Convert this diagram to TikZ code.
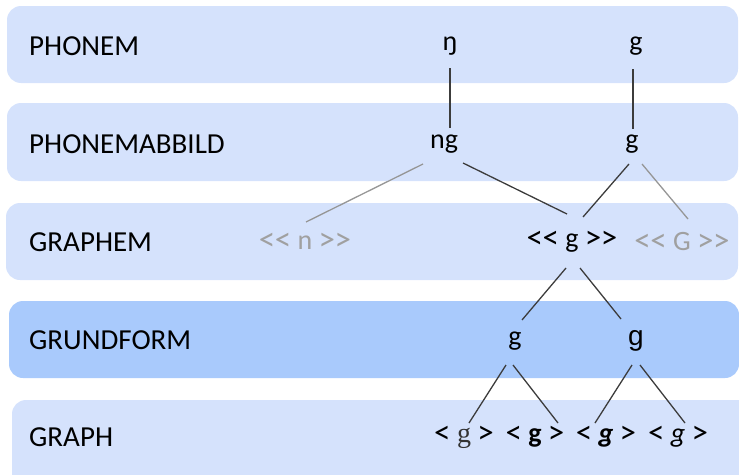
\documentclass[tikz,border=0pt]{standalone}
\usepackage{fontspec}
\setmainfont{Carlito}[Ligatures=TeXOff]
\newfontfamily\serifg{Liberation Serif}
\newfontfamily\arialg{Liberation Sans}
\newcommand\bigbr[1]{{\fontsize{33}{30}\selectfont\raisebox{-1pt}{#1}}}
\newcommand\LL{\bigbr{<\kern-0.5pt<}}
\newcommand\RR{\bigbr{>\kern-0.5pt>}}
\newcommand\Lx{\bigbr{<}}
\newcommand\Rx{\bigbr{>}}
\begin{document}
\begin{tikzpicture}[x=1pt,y=-1pt,
  band/.style={fill=bandlight,rounded corners=14pt},
  lvl/.style={anchor=west,font=\fontsize{29}{30}\selectfont,text=black,inner sep=0pt},
  sym/.style={font=\fontsize{28}{30}\selectfont,text=black,inner sep=1pt},
  gsym/.style={sym,text=graytext},
  dk/.style={draw=darkline,line width=1.3pt},
  lt/.style={draw=lightline,line width=1.3pt}]
\definecolor{bandlight}{RGB}{213,226,252}
\definecolor{banddark}{RGB}{169,202,252}
\definecolor{graytext}{RGB}{160,160,160}
\definecolor{darkline}{RGB}{60,60,60}
\definecolor{lightline}{RGB}{150,150,150}
\useasboundingbox (0,0) rectangle (739,474);
\clip (0,0) rectangle (739,474);
% bands
\fill[band] (7,6) rectangle (738,83);
\fill[band] (7,103) rectangle (738,181);
\fill[band] (6,203) rectangle (738,280);
\fill[band,fill=banddark] (9,301) rectangle (739,378);
\fill[band] (12,400) rectangle (760,500);
% level labels
\node[lvl] (l1) at (29,46) {PHONEM};
\node[lvl] (l2) at (29,144) {PHONEMABBILD};
\node[lvl] (l3) at (29,242) {GRAPHEM};
\node[lvl] (l4) at (29,340) {GRUNDFORM};
\node[lvl] (l5) at (29,437) {GRAPH};
% tree nodes
\node[sym] (p1) at (450,46) {ŋ};
\node[sym] (p2) at (636,46) {g};
\node[sym] (a1) at (444,144) {ng};
\node[sym] (a2) at (632,144) {g};
\node[gsym] (gn) at (305,242) {\LL{} n \RR};
\node[sym] (gg) at (572,242) {\LL{} g \RR};
\node[gsym] (gG) at (682,242) {\LL{} G \RR};
\node[sym] (f1) at (515,341) {g};
\node[sym] (f2) at (636,341) {\arialg g};
\node[sym] (h1) at (464,437) {\Lx{} {\serifg\color{black!80}g} \Rx};
\node[sym] (h2) at (535,437) {\Lx{} \textbf{g} \Rx};
\node[sym] (h3) at (606,437) {\Lx{} \textbf{\textit{g}} \Rx};
\node[sym] (h4) at (678,437) {\Lx{} \textit{g} \Rx};
% connectors
\coordinate (c1) at (450,68); \coordinate (c2) at (450,128);
\coordinate (c3) at (633,69); \coordinate (c4) at (633,129);
\draw[dk] (c1) -- (c2);
\draw[dk] (c3) -- (c4);
\coordinate (d1) at (423,164); \coordinate (d2) at (306,222);
\draw[lt] (d1) -- (d2);
\coordinate (d3) at (463,163); \coordinate (d4) at (567,214);
\draw[dk] (d3) -- (d4);
\coordinate (d5) at (629,164); \coordinate (d6) at (583,217);
\draw[dk] (d5) -- (d6);
\coordinate (d7) at (642,164); \coordinate (d8) at (688,219);
\draw[lt] (d7) -- (d8);
\coordinate (e1) at (566,268); \coordinate (e2) at (522,320);
\draw[dk] (e1) -- (e2);
\coordinate (e3) at (580,268); \coordinate (e4) at (621,319);
\draw[dk] (e3) -- (e4);
\coordinate (k1) at (506,365); \coordinate (k2) at (469,423);
\draw[dk] (k1) -- (k2);
\coordinate (k3) at (513,365); \coordinate (k4) at (558,423);
\draw[dk] (k3) -- (k4);
\coordinate (k5) at (632,365); \coordinate (k6) at (595,423);
\draw[dk] (k5) -- (k6);
\coordinate (k7) at (640,365); \coordinate (k8) at (685,423);
\draw[dk] (k7) -- (k8);
\end{tikzpicture}
\end{document}
